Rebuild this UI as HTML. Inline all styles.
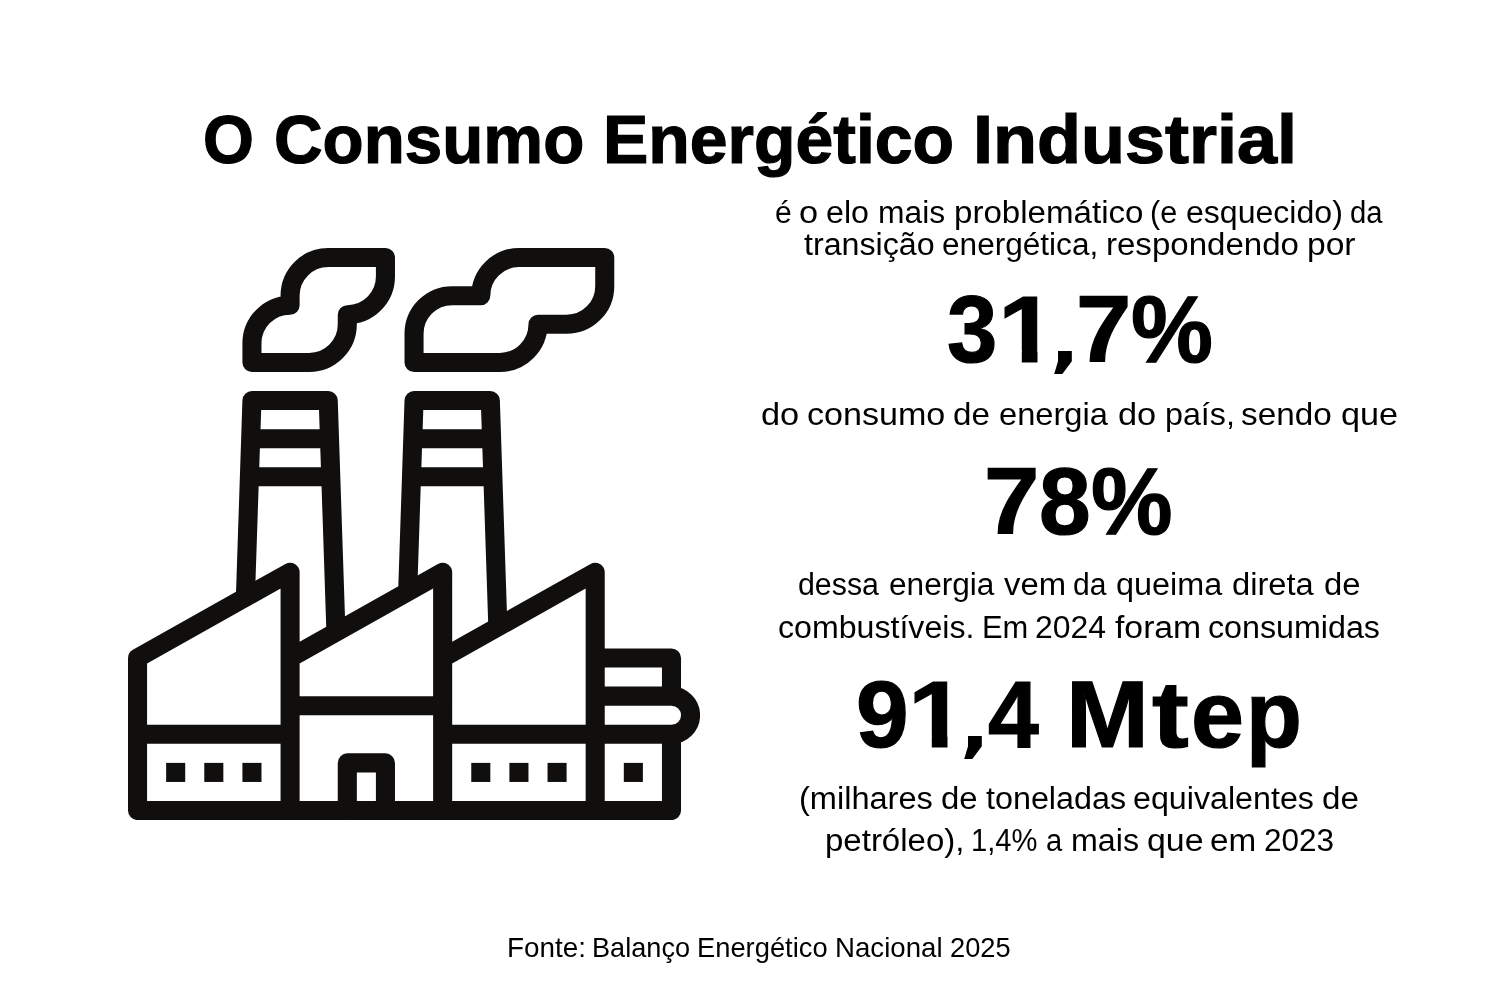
<!DOCTYPE html>
<html lang="pt-BR">
<head>
<meta charset="utf-8">
<title>O Consumo Energético Industrial</title>
<style>
html,body{margin:0;padding:0;background:#fff;}
body{width:1500px;height:1000px;position:relative;overflow:hidden;font-family:"Liberation Sans", sans-serif;color:#000;}
.t{position:absolute;left:0;width:1500px;white-space:nowrap;line-height:1;margin:0;height:1em;}
.t span{position:absolute;top:0;display:block;white-space:nowrap;transform-origin:0 0;}
#icon{position:absolute;left:128.3px;top:247.7px;width:572.1px;height:572.1px;}
#t0{top:105.27px;font-size:68.2px;font-weight:700;-webkit-text-stroke:1.2px #000;}
#t1{top:196.76px;font-size:31px;font-weight:400;}
#t2{top:228.76px;font-size:31px;font-weight:400;}
#t3{top:283.06px;font-size:94.2px;font-weight:700;-webkit-text-stroke:1.2px #000;}
#t4{top:397.91px;font-size:32px;font-weight:400;}
#t5{top:454.66px;font-size:94.2px;font-weight:700;-webkit-text-stroke:1.2px #000;}
#t6{top:568.76px;font-size:31px;font-weight:400;}
#t7{top:611.76px;font-size:31px;font-weight:400;}
#t8{top:668.06px;font-size:94.2px;font-weight:700;-webkit-text-stroke:1.2px #000;}
#t9{top:782.76px;font-size:31px;font-weight:400;}
#t10{top:825.16px;font-size:31px;font-weight:400;}
#t11{top:933.81px;font-size:27.4px;font-weight:400;}
</style>
</head>
<body>
<svg id="icon" viewBox="0 0 30 30" fill="none" stroke="#100f0d" stroke-width="1" stroke-linejoin="round" stroke-linecap="round">
<!-- smoke -->
<path d="M6.5 6V5A2 2 0 0 1 8.5 3V2.5A2 2 0 0 1 10.5 .5H13.5V1.5A2 2 0 0 1 11.5 3.5V4A2 2 0 0 1 9.5 6Z"/>
<path d="M15 6V4.5A2 2 0 0 1 17 2.5H18.5A2 2 0 0 1 20.5 .5H25V2A2 2 0 0 1 23 4H21.5A2 2 0 0 1 19.5 6Z"/>
<!-- chimneys -->
<path d="M6.157 18.3L6.5 8H10.5L10.9 20M6.433 10H10.567M6.367 12H10.633"/>
<path d="M14.677 17.7L15 8H19L19.393 19.8M14.933 10H19.067M14.867 12H19.133"/>
<!-- buildings -->
<path d="M.5 29.5V21.5L8.5 17V29.5M8.5 21.5L16.5 17V29.5M16.5 21.5L24.5 17V29.5M.5 29.5H28.5V25.5A1 1 0 0 0 28.5 23.5V21.5H24.5M.5 25.5H8.5M8.5 24H16.5M16.5 25.5H28.5M24.5 23.5H28.5"/>
<path d="M11.5 29.3V27H13.5V29.3"/>
<g fill="#100f0d" stroke="none">
<rect x="2" y="27" width="1" height="1"/><rect x="4" y="27" width="1" height="1"/><rect x="6" y="27" width="1" height="1"/>
<rect x="18" y="27" width="1" height="1"/><rect x="20" y="27" width="1" height="1"/><rect x="22" y="27" width="1" height="1"/>
<rect x="26" y="27" width="1" height="1"/>
</g>
</svg>

<h1 class="t" id="t0"><span style="left:203.29px;transform:scaleX(0.9595)">O</span> <span style="left:273.83px;transform:scaleX(0.9868)">Consumo</span> <span style="left:603.02px;transform:scaleX(0.9962)">Energético</span> <span style="left:973.38px;transform:scaleX(1.0558)">Industrial</span></h1>
<p class="t" id="t1"><span style="left:774.88px;transform:scaleX(0.9696)">é</span> <span style="left:799.31px;transform:scaleX(1.1075)">o</span> <span style="left:825.79px;transform:scaleX(1.0390)">elo</span> <span style="left:877.84px;transform:scaleX(1.0258)">mais</span> <span style="left:953.72px;transform:scaleX(1.0677)">problemático</span> <span style="left:1150.48px;transform:scaleX(0.9865)">(e</span> <span style="left:1185.79px;transform:scaleX(1.0341)">esquecido)</span> <span style="left:1349.63px;transform:scaleX(0.9447)">da</span></p>
<p class="t" id="t2"><span style="left:803.60px;transform:scaleX(1.0386)">transição</span> <span style="left:942.41px;transform:scaleX(1.0187)">energética,</span> <span style="left:1106.16px;transform:scaleX(1.0657)">respondendo</span> <span style="left:1307.49px;transform:scaleX(1.0835)">por</span></p>
<div class="t" id="t3"><span style="left:947.45px;transform:scaleX(0.9601)">3</span><span style="left:997.91px;transform:scaleX(1.1122);clip-path:polygon(0 0,35.51px 0,35.51px 100%,21.39px 100%,21.39px 67.53px,0 67.53px)">1</span><span style="left:1049.86px;transform:scaleX(1.1457);top:23.07px;font-family:'DejaVu Sans','Liberation Sans',sans-serif;font-size:68.6px;-webkit-text-stroke:0">,</span><span style="left:1075.95px;transform:scaleX(1.0569)">7</span><span style="left:1130.88px;transform:scaleX(0.9787)">%</span></div>
<p class="t" id="t4"><span style="left:761.21px;transform:scaleX(1.0737)">do</span> <span style="left:807.40px;transform:scaleX(1.0653)">consumo</span> <span style="left:953.37px;transform:scaleX(1.0364)">de</span> <span style="left:998.86px;transform:scaleX(1.0202)">energia</span> <span style="left:1118.01px;transform:scaleX(1.0737)">do</span> <span style="left:1164.67px;transform:scaleX(1.0078)">país,</span> <span style="left:1241.38px;transform:scaleX(1.0398)">sendo</span> <span style="left:1340.72px;transform:scaleX(1.0686)">que</span></p>
<div class="t" id="t5"><span style="left:983.95px;transform:scaleX(1.0569)">7</span><span style="left:1038.62px;transform:scaleX(0.9866)">8</span><span style="left:1091.29px;transform:scaleX(0.9737)">%</span></div>
<p class="t" id="t6"><span style="left:798.39px;transform:scaleX(0.9782)">dessa</span> <span style="left:888.51px;transform:scaleX(1.0195)">energia</span> <span style="left:1003.68px;transform:scaleX(1.0583)">vem</span> <span style="left:1073.20px;transform:scaleX(0.9688)">da</span> <span style="left:1116.20px;transform:scaleX(1.0441)">queima</span> <span style="left:1232.39px;transform:scaleX(1.0547)">direta</span> <span style="left:1324.18px;transform:scaleX(1.0590)">de</span></p>
<p class="t" id="t7"><span style="left:778.49px;transform:scaleX(1.0362)">combustíveis.</span> <span style="left:981.96px;transform:scaleX(0.9960)">Em</span> <span style="left:1035.09px;transform:scaleX(1.0284)">2024</span> <span style="left:1114.51px;transform:scaleX(1.0881)">foram</span> <span style="left:1208.19px;transform:scaleX(1.0396)">consumidas</span></p>
<div class="t" id="t8"><span style="left:856.39px;transform:scaleX(1.0050)">9</span><span style="left:907.61px;transform:scaleX(1.1122);clip-path:polygon(0 0,35.51px 0,35.51px 100%,21.39px 100%,21.39px 67.53px,0 67.53px)">1</span><span style="left:959.56px;transform:scaleX(1.1457);top:23.17px;font-family:'DejaVu Sans','Liberation Sans',sans-serif;font-size:68.6px;-webkit-text-stroke:0">,</span><span style="left:988.20px;transform:scaleX(0.9700)">4</span> <span style="left:1065.89px;transform:scaleX(1.0555)">M</span><span style="left:1151.64px;transform:scaleX(1.1725)">t</span><span style="left:1191.09px;transform:scaleX(1.0117)">e</span><span style="left:1246.35px;transform:scaleX(0.9706)">p</span></div>
<p class="t" id="t9"><span style="left:799.26px;transform:scaleX(1.0494)">(milhares</span> <span style="left:941.38px;transform:scaleX(1.0621)">de</span> <span style="left:985.90px;transform:scaleX(1.0420)">toneladas</span> <span style="left:1133.29px;transform:scaleX(1.0395)">equivalentes</span> <span style="left:1322.07px;transform:scaleX(1.0684)">de</span></p>
<p class="t" id="t10"><span style="left:825.13px;transform:scaleX(1.0647)">petróleo),</span> <span style="left:971.21px;transform:scaleX(0.9400)">1,4%</span> <span style="left:1045.90px;transform:scaleX(0.9400)">a</span> <span style="left:1071.21px;transform:scaleX(1.0387)">mais</span> <span style="left:1146.83px;transform:scaleX(1.0924)">que</span> <span style="left:1210.24px;transform:scaleX(1.0722)">em</span> <span style="left:1263.60px;transform:scaleX(1.0170)">2023</span></p>
<p class="t" id="t11"><span style="left:506.90px;transform:scaleX(1.0159)">Fonte:</span> <span style="left:591.95px;transform:scaleX(0.9906)">Balanço</span> <span style="left:696.84px;transform:scaleX(0.9976)">Energético</span> <span style="left:835.11px;transform:scaleX(1.0091)">Nacional</span> <span style="left:950.02px;transform:scaleX(0.9955)">2025</span></p>
</body>
</html>
